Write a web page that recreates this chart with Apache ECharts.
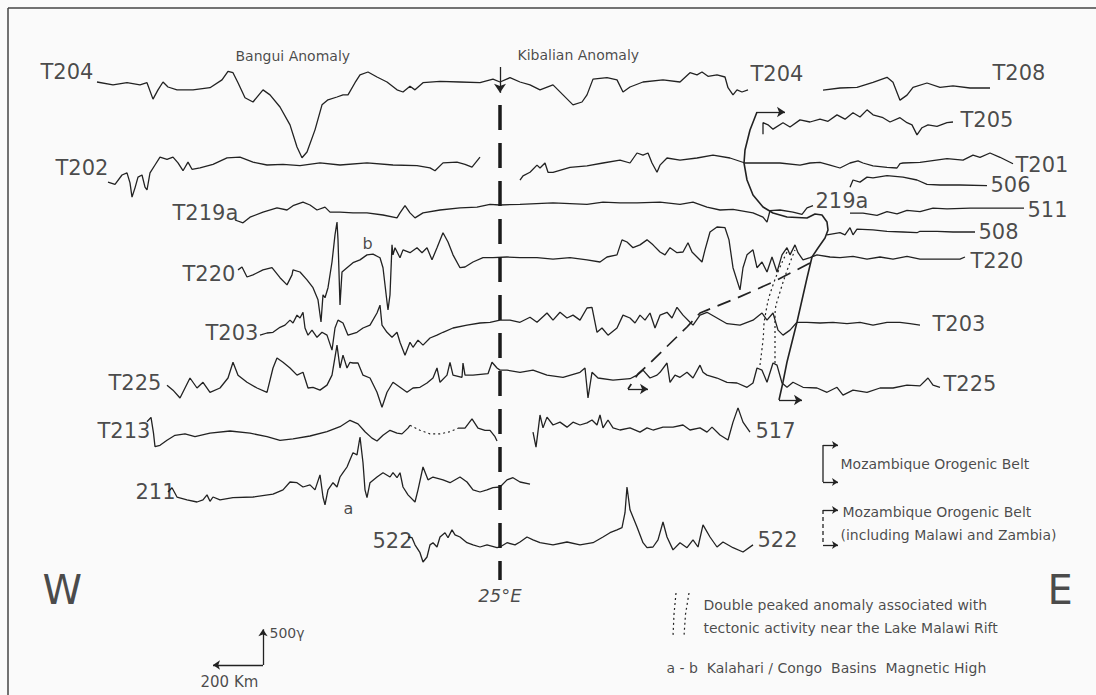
<!DOCTYPE html>
<html><head><meta charset="utf-8">
<script src="https://cdn.jsdelivr.net/npm/echarts@6/dist/echarts.min.js"></script>
<style>html,body{margin:0;padding:0;background:#fafafa}#c{width:1096px;height:695px}</style>
</head><body><div id="c"></div>
<script>
// ---- Profile data: [distance km (from west frame edge), anomaly gamma] ----
const T204 = [[388,0],[452,-40],[508,-10],[560,-40],[588,-10],[612,-240],[632,-110],[652,0],[672,-70],[708,-110],[772,-110],[840,-80],[888,30],[912,150],[932,130],[952,-10],[980,-220],[1012,-280],[1052,-110],[1080,-180],[1120,-350],[1160,-600],[1188,-910],[1208,-1060],[1228,-980],[1260,-670],[1288,-320],[1312,-250],[1348,-210],[1372,-180],[1392,-180],[1420,-10],[1440,100],[1472,140],[1508,70],[1548,0],[1588,-110],[1612,-140],[1640,-60],[1660,-110],[1692,-10],[1760,10],[1840,0],[1920,-10],[1972,40],[2000,0],[2040,60],[2080,0],[2120,-40],[2160,-110],[2212,-40],[2252,-180],[2292,-320],[2328,-280],[2348,-180],[2372,40],[2428,60],[2468,30],[2492,-140],[2520,-70],[2572,0],[2652,30],[2720,0],[2760,130],[2788,100],[2808,140],[2832,80],[2868,100],[2900,70],[2912,-80],[2932,-180],[2948,-110],[2968,-140],[2992,-110]];
const T208 = [[3292,-30],[3360,0],[3428,10],[3492,80],[3548,150],[3572,80],[3600,-170],[3628,-100],[3652,10],[3708,70],[3760,10],[3812,30],[3880,0],[3960,0]];
const T205 = [[3052,-170],[3052,-10],[3072,-40],[3092,-100],[3132,-10],[3160,-70],[3200,30],[3240,0],[3280,40],[3312,10],[3348,100],[3380,40],[3412,130],[3440,70],[3468,170],[3492,100],[3532,60],[3560,0],[3600,60],[3628,-10],[3648,-40],[3668,-180],[3688,-80],[3712,-40],[3748,-60],[3788,-10],[3812,0]];
const T202 = [[432,-240],[460,-270],[488,-140],[508,-110],[520,-250],[528,-450],[540,-320],[552,-170],[568,-140],[580,-310],[588,-350],[600,-110],[620,0],[640,110],[668,80],[692,110],[712,30],[732,-80],[752,40],[768,-60],[800,-40],[852,10],[908,100],[960,110],[1012,40],[1068,0],[1132,10],[1200,-10],[1280,30],[1360,0],[1468,30],[1572,0],[1668,-10],[1720,-40],[1740,-80],[1772,30],[1828,40],[1860,10],[1888,-30],[1920,110]];
const T201 = [[2080,-240],[2092,-180],[2120,-130],[2148,-30],[2160,-70],[2180,0],[2192,-130],[2212,-130],[2280,-60],[2348,-40],[2412,0],[2480,40],[2520,0],[2548,140],[2572,110],[2592,140],[2608,0],[2628,-130],[2640,-30],[2668,70],[2720,40],[2788,70],[2852,110],[2920,70],[2980,0],[3040,0],[3120,0],[3200,-30],[3240,0],[3280,10],[3320,-30],[3360,-70],[3400,0],[3432,30],[3452,0],[3492,-40],[3548,-60],[3588,-70],[3600,-10],[3612,0],[3680,10],[3788,60],[3852,40],[3892,110],[3920,80],[3960,140],[4000,80],[4052,-10]];
const T219a = [[940,-140],[972,-180],[1000,-100],[1052,-30],[1108,30],[1148,0],[1172,60],[1212,110],[1240,70],[1268,0],[1300,40],[1320,-30],[1360,-30],[1412,-40],[1468,-40],[1532,-70],[1588,-110],[1600,-40],[1620,60],[1640,-40],[1660,-110],[1692,-40],[1760,0],[1840,30],[1908,40],[1960,80],[2000,70],[2080,80],[2212,100],[2348,80],[2412,110],[2480,100],[2548,100],[2640,110],[2720,80],[2772,110],[2828,40],[2880,0],[2932,10],[3012,-40],[3052,-100],[3068,-170],[3080,-10],[3120,0],[3172,-30],[3208,-60],[3228,30],[3252,60]];
const L506 = [[3400,-30],[3412,70],[3440,40],[3468,110],[3492,100],[3548,130],[3612,110],[3668,70],[3708,10],[3760,0],[3840,0],[3948,-10]];
const L511 = [[3400,-30],[3452,-30],[3508,-60],[3548,-10],[3588,-40],[3628,10],[3680,-10],[3732,40],[3788,30],[3880,40],[4012,40],[4096,40]];
const L508 = [[3308,-40],[3360,-10],[3380,-40],[3400,60],[3412,-40],[3428,40],[3492,30],[3548,10],[3612,0],[3668,-10],[3680,10],[3748,10],[3812,0],[3900,0]];
const T220 = [[952,-110],[968,-70],[988,-210],[1012,-180],[1052,-110],[1088,-80],[1120,-220],[1148,-320],[1168,-180],[1172,-110],[1200,-140],[1228,-250],[1252,-360],[1272,-530],[1284,-840],[1292,-460],[1300,-500],[1312,-360],[1328,0],[1340,380],[1348,560],[1352,310],[1360,-600],[1368,-140],[1388,-80],[1412,-10],[1440,30],[1468,100],[1492,110],[1520,60],[1532,-80],[1548,-560],[1552,-670],[1560,-460],[1568,240],[1572,100],[1580,200],[1600,60],[1612,170],[1640,130],[1668,200],[1688,130],[1708,200],[1728,30],[1748,200],[1772,410],[1792,280],[1812,100],[1840,-80],[1860,-70],[1892,0],[1932,60],[1972,60],[2028,70],[2080,60],[2148,60],[2212,40],[2280,60],[2348,30],[2400,0],[2428,70],[2468,100],[2488,310],[2508,280],[2532,200],[2560,240],[2588,310],[2612,240],[2640,140],[2660,100],[2680,200],[2708,130],[2732,140],[2752,270],[2768,140],[2788,70],[2808,0],[2820,170],[2840,420],[2868,490],[2900,480],[2916,310],[2932,-80],[2960,-390],[2972,-80],[2988,100],[3012,170],[3028,-80],[3048,0],[3068,-140],[3088,70],[3108,-140],[3128,100],[3148,200],[3160,100],[3180,240],[3192,130],[3212,30],[3240,60],[3268,100],[3320,70],[3360,60],[3412,80],[3468,40],[3520,70],[3572,40],[3628,80],[3680,40],[3760,40],[3840,40],[3860,70]];
const T203 = [[1040,-170],[1068,-140],[1092,-130],[1120,-60],[1140,-30],[1160,40],[1172,0],[1188,110],[1200,70],[1212,150],[1220,-70],[1232,-170],[1248,-100],[1268,-200],[1288,-130],[1308,-170],[1328,-380],[1340,-70],[1352,40],[1372,0],[1392,-170],[1428,-130],[1452,-70],[1480,-30],[1508,140],[1520,250],[1528,-30],[1548,-130],[1568,-200],[1588,-130],[1600,-270],[1620,-450],[1640,-270],[1652,-340],[1672,-240],[1692,-310],[1720,-210],[1748,-170],[1772,-130],[1812,-70],[1868,-30],[1920,0],[1960,10],[2000,40],[2040,40],[2080,10],[2120,80],[2148,10],[2188,140],[2212,40],[2240,150],[2268,70],[2292,110],[2320,40],[2348,210],[2368,220],[2388,-130],[2408,-70],[2432,-170],[2468,-70],[2492,110],[2520,70],[2540,0],[2560,110],[2580,40],[2600,140],[2620,-70],[2640,110],[2668,150],[2688,70],[2708,220],[2732,110],[2760,10],[2772,-30],[2800,110],[2828,150],[2868,70],[2908,-10],[2960,-30],[3012,40],[3048,140],[3068,40],[3092,140],[3112,-100],[3132,-170],[3160,-100],[3188,10],[3228,10],[3280,0],[3332,10],[3388,-10],[3440,10],[3492,-30],[3548,10],[3600,10],[3640,-10],[3680,-30]];
const T225 = [[668,-100],[692,-170],[720,-280],[740,-140],[760,0],[788,-140],[812,-60],[840,-200],[880,-140],[912,0],[932,220],[952,40],[988,-60],[1028,-140],[1068,-200],[1092,140],[1108,280],[1132,220],[1160,140],[1188,40],[1212,80],[1232,-140],[1252,-130],[1280,-170],[1308,-100],[1328,40],[1348,460],[1360,140],[1372,320],[1388,140],[1400,220],[1412,210],[1432,210],[1452,40],[1480,0],[1508,-200],[1528,-410],[1548,-200],[1572,-60],[1600,-130],[1628,-200],[1652,-140],[1680,-130],[1708,-70],[1732,0],[1748,140],[1760,-60],[1788,40],[1800,220],[1812,40],[1848,10],[1852,210],[1860,40],[1892,40],[1952,60],[1968,220],[1988,140],[2000,110],[2028,110],[2080,80],[2132,110],[2188,40],[2252,10],[2320,80],[2340,140],[2352,-280],[2368,80],[2392,0],[2452,-30],[2520,-10],[2548,40],[2572,110],[2600,0],[2628,40],[2640,80],[2668,210],[2680,-60],[2700,40],[2720,10],[2748,80],[2772,0],[2800,180],[2812,80],[2828,40],[2868,0],[2908,-60],[2948,-70],[2988,-130],[3012,-70],[3028,140],[3048,110],[3068,-60],[3092,210],[3108,180],[3128,-70],[3148,-130],[3172,-60],[3212,-130],[3268,-140],[3308,-200],[3348,-130],[3372,-240],[3412,-170],[3468,-200],[3520,-140],[3572,-140],[3628,-100],[3680,-110],[3712,0],[3732,-100],[3760,-130]];
const T213 = [[588,200],[604,260],[614,40],[620,-150],[640,-130],[668,-60],[700,10],[740,30],[780,-10],[840,40],[920,70],[1000,40],[1068,-10],[1120,-60],[1172,-40],[1240,0],[1308,60],[1360,130],[1400,220],[1432,170],[1460,60],[1488,-30],[1508,-70],[1532,10],[1560,80],[1588,40],[1608,30],[1632,110],[1640,150]];
const T213_gap = [[1640,150],[1680,80],[1720,30],[1760,30],[1800,60],[1832,110]];
const T213_east = [[1832,110],[1860,110],[1888,240],[1912,110],[1940,80],[1960,80],[1980,-10],[1988,-70]];
const L517 = [[2132,-30],[2144,-240],[2152,-20],[2160,210],[2172,30],[2188,180],[2212,70],[2240,110],[2268,40],[2292,110],[2320,70],[2348,100],[2368,140],[2388,70],[2400,210],[2412,30],[2432,140],[2452,30],[2480,0],[2520,30],[2560,-30],[2588,30],[2612,0],[2652,40],[2692,40],[2732,70],[2760,0],[2800,30],[2828,-30],[2848,40],[2880,-70],[2912,-140],[2932,110],[2952,310],[2972,110],[3000,-30]];
const L211 = [[672,0],[688,60],[708,-70],[748,-110],[788,-140],[812,-110],[828,-40],[840,-130],[852,-70],[880,-110],[932,-80],[1012,-70],[1092,-30],[1132,30],[1160,140],[1188,130],[1212,70],[1240,100],[1260,30],[1280,240],[1292,-70],[1300,-180],[1312,30],[1332,130],[1348,70],[1360,210],[1372,270],[1388,350],[1400,450],[1412,550],[1428,520],[1440,770],[1452,410],[1460,30],[1468,-80],[1480,130],[1508,210],[1532,270],[1560,210],[1572,270],[1588,200],[1600,270],[1612,70],[1632,-40],[1660,-140],[1672,30],[1692,350],[1712,170],[1732,210],[1772,170],[1800,130],[1840,210],[1868,140],[1892,30],[1920,0],[1948,30],[1972,60],[2000,70],[2028,170],[2052,200],[2080,140],[2120,110]];
const L522 = [[1632,70],[1648,60],[1660,-40],[1680,-150],[1692,-280],[1708,-210],[1720,-40],[1732,-10],[1748,-70],[1760,70],[1780,130],[1792,60],[1808,170],[1820,100],[1840,70],[1868,-10],[1892,-40],[1920,-70],[1948,-40],[1988,-80],[2000,-70],[2028,-10],[2060,-40],[2080,0],[2108,70],[2132,30],[2160,-10],[2212,-40],[2268,0],[2320,-40],[2372,-10],[2412,70],[2440,130],[2468,170],[2488,200],[2500,410],[2508,770],[2520,450],[2548,210],[2572,-10],[2588,-80],[2612,-70],[2632,30],[2652,280],[2668,70],[2692,-110],[2720,-10],[2748,-80],[2772,30],[2792,-70],[2812,240],[2840,70],[2868,-70],[2892,0],[2932,-80],[2972,-140],[3012,-40]];

// ---- Interpretive lines (km, plot depth in gamma units) ----
const mozambiqueBelt = [[3028,1568],[3000,1820],[2980,2100],[2976,2282],[2988,2520],[3012,2730],[3052,2898],[3092,2982],[3148,3038],[3228,3052],[3260,2996],[3288,3010],[3308,3108],[3312,3220],[3300,3332],[3272,3472],[3248,3598],[3228,3892],[3188,4508],[3148,5068],[3132,5348],[3116,5600]];
const malawiZambiaBelt = [[3240,3682],[3092,3948],[2948,4172],[2800,4382],[2748,4578],[2600,5082],[2552,5236],[2512,5446]];
const doublePeakA = [[3040,5110],[3052,4760],[3060,4438],[3092,3990],[3152,3500]];
const doublePeakB = [[3100,5082],[3100,4760],[3100,4452],[3120,4088],[3180,3500]];
const meridianKm = 2000;           // 25°E
const scaleKm = 200, scaleGamma = 500;

// ---- Layout (positions kept apart from data) ----
const rows = [
  {d:T204,b:1148},{d:T208,b:1232},{d:T205,b:1708},{d:T202,b:2310},{d:T201,b:2282},
  {d:T219a,b:2940},{d:L506,b:2590},{d:L511,b:2954},{d:L508,b:3248},{d:T220,b:3668},
  {d:T203,b:4522},{d:T225,b:5292},{d:T213,b:6104},{d:T213_gap,b:6104,dot:true},{d:T213_east,b:6104},
  {d:L517,b:6020},{d:L211,b:6888},{d:L522,b:7588}
];
const texts = [
  ['T204',160,1008,21],['Bangui Anomaly',940,784,14],['Kibalian Anomaly',2068,770,14],
  ['T204',3000,1036,21],['T208',3968,1022,21],['T205',3840,1680,21],['T202',220,2352,21],
  ['T201',4060,2310,21],['506',3960,2590,21],['T219a',688,2982,21],['219a',3260,2814,21],
  ['511',4108,2940,21],['508',3912,3248,21],['b',1448,3402,16],['T220',728,3836,21],
  ['T220',3880,3654,21],['T203',820,4662,21],['T203',3728,4536,21],['T225',432,5362,21],
  ['T225',3772,5376,21],['T213',388,6034,21],['517',3020,6034,21],['211',540,6888,21],
  ['a',1372,7112,16],['522',1488,7574,21],['522',3028,7560,21],['W',168,8260,40],['E',4188,8260,40],
  ['500γ',1076,8862,14],['200 Km',800,9548,15],
  ['Mozambique Orogenic Belt',3360,6496,14],['Mozambique Orogenic Belt',3368,7168,14],
  ['(including Malawi and Zambia)',3360,7490,14],
  ['Double peaked anomaly associated with',2812,8470,14],
  ['tectonic activity near the Lake Malawi Rift',2812,8792,14],
  ['a - b  Kalahari / Congo  Basins  Magnetic High',2664,9352,14]
];

const INK = '#222222';
const TXT = '#1a1a1a';
const FONT = '"DejaVu Sans", "Liberation Sans", sans-serif';
const series = [];
rows.forEach(r => {
  series.push({type:'line', data:r.d.map(p => [p[0], r.b - p[1]]), showSymbol:false, symbol:'none',
    silent:true, lineStyle:{color:INK, width:r.dot?1.1:1.3, type:r.dot?[2,3]:'solid'}});
});
function arrow(a, b, size, dashed) {
  return {type:'line', data:[a], symbol:'none', silent:true, lineStyle:{opacity:0},
    markLine:{silent:true, symbol:['none','arrow'], symbolSize:size, label:{show:false},
      lineStyle:{color:INK, width:1.3, type:dashed||'solid'}, data:[[{coord:a},{coord:b}]]}};
}
function plain(a, b, type) {
  return {type:'line', data:[a,b], symbol:'none', silent:true, lineStyle:{color:INK, width:1.3, type:type||'solid'}};
}
series.push({type:'line', data:mozambiqueBelt, symbol:'none', silent:true, lineStyle:{color:INK, width:1.6}});
series.push(arrow([3028,1568],[3140,1568],8));
series.push(arrow([3116,5600],[3208,5600],8));
series.push({type:'line', data:malawiZambiaBelt, symbol:'none', silent:true, lineStyle:{color:INK, width:1.7, type:[14,8]}});
series.push(arrow([2512,5446],[2592,5446],8));
series.push({type:'line', data:doublePeakA, symbol:'none', smooth:true, silent:true, lineStyle:{color:INK, width:1.2, type:[2,3]}});
series.push({type:'line', data:doublePeakB, symbol:'none', smooth:true, silent:true, lineStyle:{color:INK, width:1.2, type:[2,3]}});
series.push(arrow([meridianKm,938],[meridianKm,1300],9));
series.push({type:'line', data:[[meridianKm,1470],[meridianKm,8120]], symbol:'none', silent:true, lineStyle:{color:'#1a1a1a', width:3.5, type:[25,13]}});
const so = [1052, 9310];
series.push(arrow(so, [so[0]-scaleKm, so[1]], 7));
series.push(arrow(so, [so[0], so[1]-scaleGamma], 7));
series.push(arrow([3292,6230],[3352,6230],6));
series.push(plain([3292,6230],[3292,6748]));
series.push(arrow([3292,6748],[3352,6748],6));
series.push(arrow([3292,7140],[3352,7140],6));
series.push(plain([3292,7140],[3292,7630],[4,3]));
series.push(arrow([3292,7630],[3352,7630],6));
series.push({type:'line', data:[[2704,8302],[2696,8600],[2692,8904]], symbol:'none', silent:true, lineStyle:{color:INK, width:1.2, type:[2,3]}});
series.push({type:'line', data:[[2756,8302],[2742,8600],[2736,8904]], symbol:'none', silent:true, lineStyle:{color:INK, width:1.2, type:[2,3]}});
// texts
series.push({type:'scatter', symbol:'circle', symbolSize:1, silent:true, itemStyle:{color:'rgba(0,0,0,0)'},
  data: texts.map(t => ({value:[t[1],t[2]], label:{show:true, position:'right', distance:0,
    formatter:t[0], fontSize:t[3], fontFamily:FONT, color:TXT}}))});
series.push({type:'scatter', symbol:'circle', symbolSize:1, silent:true, itemStyle:{color:'rgba(0,0,0,0)'},
  data:[{value:[meridianKm,8330], label:{show:true, position:'inside', formatter:'25°E', fontSize:18,
    fontStyle:'italic', fontFamily:FONT, color:TXT}}]});

const chart = echarts.init(document.getElementById('c'), null, {renderer:'svg'});
chart.setOption({
  animation:false, backgroundColor:'#fafafa',
  grid:{left:0, right:0, top:0, bottom:0},
  xAxis:{type:'value', min:0, max:4384, show:false},
  yAxis:{type:'value', min:0, max:9730, inverse:true, show:false},
  graphic:[
    {type:'line', shape:{x1:8,y1:8,x2:1096,y2:8}, style:{stroke:'#444', lineWidth:1.5}},
    {type:'line', shape:{x1:8,y1:8,x2:8,y2:695}, style:{stroke:'#444', lineWidth:1.5}}
  ],
  series: series
});
</script></body></html>
